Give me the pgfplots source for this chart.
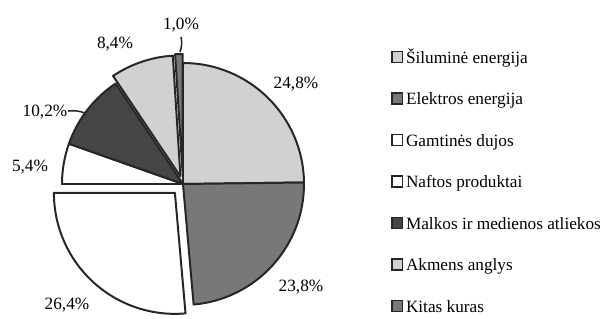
\documentclass[border=0pt]{standalone}
\usepackage{fontspec}
\setmainfont{Liberation Serif}
\usepackage{pgfplots}
\usepackage{pgfplotstable}
\pgfplotsset{compat=1.18}
\definecolor{cLight}{gray}{0.82}
\definecolor{cMid}{gray}{0.47}
\definecolor{cDark}{gray}{0.27}
\definecolor{cEdge}{gray}{0.15}

\pgfplotstableread{
value explode col
24.8 0 cLight
23.8 0 cMid
26.4 12 white
5.4 0 white
10.2 0 cDark
8.4 8 cLight
1.0 9 cMid
}\piedata

\def\R{70.18pt}
\pgfplotsset{sq/.style={legend image code/.code={\draw[fill=#1, draw=cEdge, line width=0.9pt] (0.45pt,0.45pt) rectangle (6.75pt,6.75pt); \path[draw=none, fill=none] (0pt,0pt) -- (8.7pt,0pt);}}}

\begin{document}
\begin{tikzpicture}
\begin{axis}[
  x=0.58pt, y=0.58pt,
  xmin=-183, xmax=430, ymin=-130, ymax=184,
  hide axis, clip=false, disabledatascaling,
  legend style={at={(axis cs:208,133.2)}, anchor=north west, draw=none, fill=none,
    inner sep=0pt, outer sep=0pt, row sep=14.87pt,
    nodes={inner sep=0pt, text height=7.2pt, text depth=2pt, anchor=base west}},
]
\path (rel axis cs:0,0) rectangle (rel axis cs:1,1);
\pgfmathsetmacro\cum{0}
\pgfplotsforeachungrouped \i in {0,...,6}{%
  \pgfplotstablegetelem{\i}{value}\of\piedata \let\val\pgfplotsretval
  \pgfplotstablegetelem{\i}{explode}\of\piedata \let\ex\pgfplotsretval
  \pgfplotstablegetelem{\i}{col}\of\piedata \let\cc\pgfplotsretval
  \pgfmathsetmacro\aS{90-3.6*\cum}%
  \pgfmathsetmacro\aE{90-3.6*(\cum+\val)}%
  \pgfmathsetmacro\aM{(\aS+\aE)/2}%
  \pgfmathsetmacro\dx{\ex*cos(\aM)}%
  \pgfmathsetmacro\dy{\ex*sin(\aM)}%
  \edef\cmd{\noexpand\filldraw[fill=\cc, draw=cEdge, line width=1.15pt, line join=round]
    (axis cs:\dx,\dy) -- ++(\aS:\R) arc[start angle=\aS, end angle=\aE, radius=\R] -- cycle;}%
  \cmd
  \pgfmathsetmacro\cum{\cum+\val}%
}

\node[anchor=base] at (axis cs:-2,155) {1,0\%};
\node[anchor=base] at (axis cs:-68,136) {8,4\%};
\node[anchor=base] at (axis cs:113,96) {24,8\%};
\node[anchor=base] at (axis cs:-138,68) {10,2\%};
\node[anchor=base] at (axis cs:-153,13) {5,4\%};
\node[anchor=base] at (axis cs:118,-107) {23,8\%};
\node[anchor=base] at (axis cs:-116,-125) {26,4\%};

\draw[cEdge, line width=0.9pt] (axis cs:-115,73) to[bend left=12] (axis cs:-98,71);
\draw[cEdge, line width=0.9pt] (axis cs:-2,147) to[bend left=15] (axis cs:-3,132);

\addlegendimage{sq=cLight}
\addlegendentry{Šiluminė energija}
\addlegendimage{sq=cMid}
\addlegendentry{Elektros energija}
\addlegendimage{sq=white}
\addlegendentry{Gamtinės dujos}
\addlegendimage{sq=white}
\addlegendentry{Naftos produktai}
\addlegendimage{sq=cDark}
\addlegendentry{Malkos ir medienos atliekos}
\addlegendimage{sq=cLight}
\addlegendentry{Akmens anglys}
\addlegendimage{sq=cMid}
\addlegendentry{Kitas kuras}
\end{axis}
\end{tikzpicture}
\end{document}
